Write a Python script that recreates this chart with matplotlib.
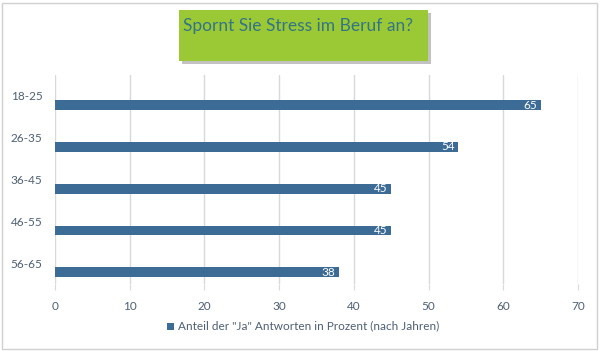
import matplotlib
matplotlib.use("Agg")
import matplotlib.pyplot as plt
from matplotlib.patches import Rectangle
import numpy as np

categories = ["18-25", "26-35", "36-45", "46-55", "56-65"]
values = [65, 54, 45, 45, 38]
series_name = 'Anteil der "Ja" Antworten in Prozent (nach Jahren)'
title = "Spornt Sie Stress im Beruf an?"
xticks = [0, 10, 20, 30, 40, 50, 60, 70]

W, H = 600, 351
fig = plt.figure(figsize=(W / 100, H / 100), dpi=100)
fig.patch.set_facecolor("white")
font = ["Lato", "DejaVu Sans"]
tick_color = "#4F5F73"
bar_color = "#3C6B95"

# outer border
fig.patches.append(Rectangle((2 / W, 2 / H), (W - 5) / W, (H - 5) / H,
                             transform=fig.transFigure, fill=False,
                             edgecolor="#D0D0D0", linewidth=1))

ax = fig.add_axes([55 / W, (H - 284) / H, (578 - 55) / W, (284 - 75) / H])
n = len(categories)
pos = np.arange(n)
ax.barh(pos + 0.22, values, height=0.23, color=bar_color, zorder=3)
for p, v in zip(pos, values):
    ax.text(v - 0.5, p + 0.22, str(v), ha="right", va="center", color="white",
            fontsize=8.5, family=font, zorder=4)
ax.set_ylim(n - 0.5, -0.5)
ax.set_xlim(0, 70)
ax.set_yticks(pos)
ax.set_yticklabels(categories, family=font, fontsize=8.5, color=tick_color)
ax.set_xticks(xticks)
ax.set_xticklabels([str(t) for t in xticks], family=font, fontsize=8.5, color=tick_color)
ax.tick_params(axis="y", length=0, pad=9)
ax.tick_params(axis="x", length=4, color="#D9D9D9", pad=8)
ax.grid(axis="x", color="#D9D9D9", linewidth=1, zorder=0)
for s in ax.spines.values():
    s.set_visible(False)

# title box with shadow
bx, by, bw, bh = 179, 10, 249, 51
fig.patches.append(Rectangle(((bx + 3) / W, (H - by - bh - 3) / H), bw / W, bh / H,
                             transform=fig.transFigure, facecolor="#9A9A9A",
                             edgecolor="none", alpha=0.6))
fig.patches.append(Rectangle((bx / W, (H - by - bh) / H), bw / W, bh / H,
                             transform=fig.transFigure, facecolor="#9BC936",
                             edgecolor="none"))
fig.text((bx + 4) / W, (H - 26) / H, title, ha="left", va="center",
         fontsize=12.5, color="#337585", family=font)

# legend
lx, ly = 171, 326
fig.patches.append(Rectangle(((lx - 4) / W, (H - ly - 4) / H), 7 / W, 7 / H,
                             transform=fig.transFigure, facecolor=bar_color,
                             edgecolor="none"))
fig.text((lx + 7) / W, (H - ly) / H, series_name, ha="left", va="center",
         fontsize=8.5, color=tick_color, family=font)

fig.savefig("out.png", dpi=100)
